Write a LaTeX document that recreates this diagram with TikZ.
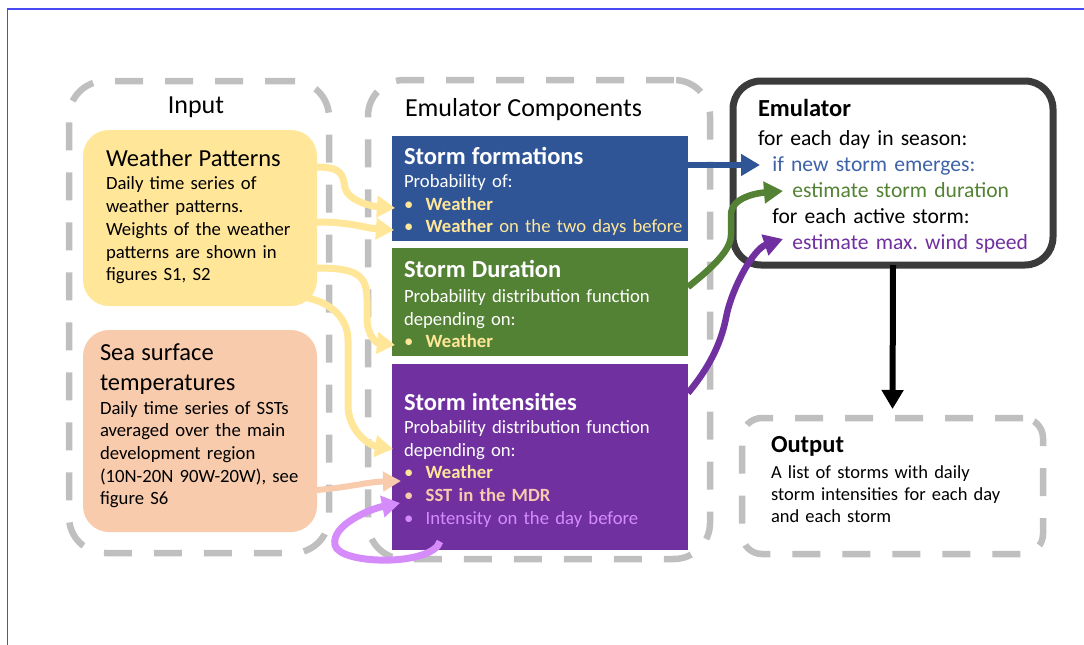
\documentclass[tikz,border=0pt]{standalone}
\usepackage{fontspec}
\setmainfont{Carlito}
\usepackage{tikz}
\usetikzlibrary{positioning, calc}
\usetikzlibrary{arrows.meta}

\definecolor{wpyellow}{HTML}{FFE699}
\definecolor{sstorange}{HTML}{F8CBAD}
\definecolor{grpgray}{HTML}{BFBFBF}
\definecolor{sfblue}{HTML}{2F5597}
\definecolor{sdgreen}{HTML}{548235}
\definecolor{sipurple}{HTML}{7030A0}
\definecolor{prevlilac}{HTML}{D58CFA}
\definecolor{emugray}{HTML}{3B3B3B}
\definecolor{emublue}{HTML}{3D62A8}
\definecolor{frameblue}{HTML}{4A4AF5}

% bullet line inside the component boxes
\newcommand\cbul[2]{\mbox{\color{#1}\makebox[21.7pt][l]{\textbullet}#2}}
\frenchspacing

\begin{document}
\begin{tikzpicture}[x=1pt,y=-1pt,outer sep=0pt]
	\def \bodysz{\fontsize{18.7}{22.7}\selectfont}
	\def \headsz{\fontsize{24.5}{30}\selectfont}
	\def \emusz{\fontsize{21.6}{26.1}\selectfont}
	\tikzstyle{grp-box}=[draw=grpgray,line width=6.5pt,dash pattern=on 28pt off 22pt,rounded corners=36pt,anchor=north west]
	\tikzstyle{grp-label}=[font=\fontsize{26}{30}\selectfont,inner sep=0pt]
	\tikzstyle{in-node}=[anchor=north west,rounded corners=26pt,inner ysep=0pt,align=left,font=\bodysz,minimum width=234pt]
	\tikzstyle{c-node}=[anchor=north west,inner xsep=12pt,inner ysep=0pt,text width=272pt,minimum width=296pt,align=left,text=white,font=\bodysz]
	\tikzstyle{y-arrow}=[draw=wpyellow,line width=7pt,-{Triangle[length=18pt,width=21pt]}]
	\tikzstyle{o-arrow}=[draw=sstorange,line width=6pt,-{Triangle[length=18pt,width=19pt]}]
	\tikzstyle{l-arrow}=[draw=prevlilac,line width=7pt,-{Triangle[length=18pt,width=21pt]}]
	\tikzstyle{e-arrow}=[line width=6.5pt,-{Triangle[length=19pt,width=21pt]}]
	\useasboundingbox (0,0) rectangle (1084,645);
	\draw[frameblue,line width=1.2pt] (7.5,645) -- (7.5,9) -- (1084,9);

	% groups
	\node[grp-box,minimum width=260pt,minimum height=472pt] (inputgrp) at (69,81) {};
	\node[grp-box,minimum width=342pt,minimum height=479pt] (compgrp) at (368,80) {};
	\node[grp-label,anchor=base] (inputlbl) at (196,113.3) {Input};
	\node[grp-label,anchor=base west] (complbl) at (405,116.7) {Emulator Components};

	% input boxes
	\node[in-node,fill=wpyellow,text height=36pt,text depth=140pt,inner xsep=23pt,text width=188pt] (wp) at (83,130)
		{{\headsz Weather Patterns}\\[1.2pt]
		Daily time series of\\
		weather patterns.\\
		Weights of the weather\\
		patterns are shown in\\
		figures S1, S2};
	\node[in-node,fill=sstorange,text height=30.7pt,text depth=171.3pt,inner xsep=17pt,text width=200pt] (sst) at (83,330)
		{{\headsz Sea surface}\\[7.2pt]
		{\headsz temperatures}\\[0.8pt]
		Daily time series of SSTs\\
		averaged over the main\\
		development region\\
		(10N-20N 90W-20W), see\\
		figure S6};

	% emulator components
	\node[c-node,fill=sfblue,text height=28.5pt,text depth=76.5pt] (sf) at (392,136)
		{{\headsz\bfseries Storm formations}\\[0.3pt]
		Probability of:\\
		\cbul{wpyellow}{\textbf{Weather}}\\
		\cbul{wpyellow}{\textbf{Weather} on the two days before}};
	\node[c-node,fill=sdgreen,text height=29.3pt,text depth=78.2pt] (sd) at (392,248)
		{{\headsz\bfseries Storm Duration}\\[2.3pt]
		Probability distribution function\\
		depending on:\\
		\cbul{wpyellow}{\textbf{Weather}}};
	\node[c-node,fill=sipurple,text height=46.7pt,text depth=138.8pt] (si) at (392,364)
		{{\headsz\bfseries Storm intensities}\\
		Probability distribution function\\
		depending on:\\
		\cbul{wpyellow}{\textbf{Weather}}\\
		\cbul{sstorange}{\textbf{SST in the MDR}}\\
		\cbul{prevlilac}{Intensity on the day before}};

	% emulator and output
	\node[anchor=north west,draw=emugray,fill=white,line width=7pt,rounded corners=28pt,text height=35.7pt,text depth=148.3pt,inner xsep=25pt,inner ysep=0pt,text width=270pt,align=left,font=\emusz] (emu) at (733,81)
		{{\headsz\bfseries Emulator}\\[2.2pt]
		for each day in season:\\
		\mbox{\hspace*{14.4pt}\textcolor{emublue}{if new storm emerges:}}\\
		\mbox{\hspace*{34.4pt}\textcolor{sdgreen}{estimate storm duration}}\\
		\mbox{\hspace*{14.4pt}for each active storm:}\\
		\mbox{\hspace*{34.4pt}\textcolor{sipurple}{estimate max. wind speed}}};
	\node[grp-box,rounded corners=20pt,text height=34.7pt,text depth=101.3pt,inner xsep=29pt,inner ysep=0pt,text width=243pt,align=left,font=\fontsize{18.5}{22.2}\selectfont] (out) at (742,418)
		{{\headsz\bfseries Output}\\[3.4pt]
		A list of storms with daily\\
		storm intensities for each day\\
		and each storm};

	% connectors
	\draw[y-arrow] ($(wp.north east)+(0,37)$) .. controls +(24,0) and +(-2,-14) .. (345,188) .. controls +(3,12) and +(-26,-2) .. ($(sf.north west)+(3,72)$);
	\draw[y-arrow] ($(wp.north east)+(0,92)$) .. controls +(35,0) and +(-30,-2) .. ($(sf.north west)+(2,94)$);
	\draw[y-arrow] ($(wp.north east)+(0,138)$) .. controls +(40,0) and +(0,-25) .. (367,300) -- (367,318) .. controls +(0,18) and +(-18,-2) .. ($(sd.north west)+(3,97)$);
	\draw[y-arrow] ($(wp.south east)+(-14,-9)$) .. controls +(30,5) and +(0,-20) .. (348,340) -- (348,405) .. controls +(0,25) and +(-25,-4) .. ($(si.north west)+(1,85)$);
	\draw[o-arrow] ($(sst.north east)+(0,160)$) .. controls +(35,-3) and +(-35,1) .. ($(si.north west)+(9,117)$);
	\draw[l-arrow] ($(si.south west)+(48,-8)$) .. controls +(-8,25) and +(4,20) .. (335,545) .. controls +(-4,-20) and +(-30,6) .. ($(si.north west)+(8,139)$);
	%
	\draw[e-arrow,draw=sfblue,line width=5.3pt] ($(sf.north east)+(0,29)$) -- ($(emu.north west)+(27,84)$);
	\draw[e-arrow,draw=sdgreen] ($(sd.north east)+(0,39)$) .. controls +(25,-20) and +(0,15) .. (731,235) -- (731,215) .. controls +(0,-18) and +(-25,2) .. ($(emu.north west)+(50,110)$);
	\draw[e-arrow,draw=sipurple] ($(si.north east)+(0,29)$) .. controls +(25,-30) and +(-4,20) .. (726,318) .. controls +(5,-28) and +(-30,10) .. ($(emu.north west)+(50,158)$);
	\draw[e-arrow,draw=black,line width=6pt,shorten >=9pt] (emu.south) -- (out.north);
\end{tikzpicture}
\end{document}
